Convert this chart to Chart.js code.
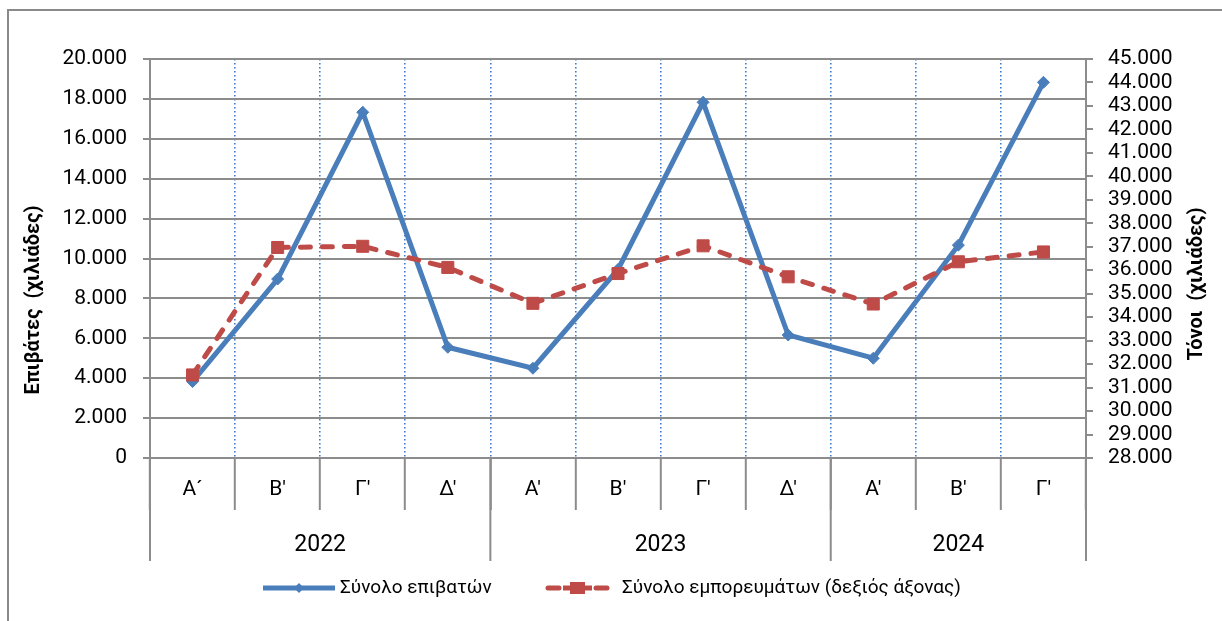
<!DOCTYPE html>
<html>
<head>
<meta charset="utf-8">
<script src="https://cdn.jsdelivr.net/npm/chart.js@4"></script>
<style>
  html, body { margin: 0; padding: 0; background: #fff; overflow: hidden; }
  .frame { position: absolute; left: 7px; top: 9px; width: 1400px; height: 800px; border: 2px solid #8a8a8a; box-sizing: border-box; }
  .wrap { position: absolute; left: 0; top: 0; width: 1222px; height: 621px; }
</style>
</head>
<body>
<div class="frame"></div>
<div class="wrap"><canvas id="chart"></canvas></div>
<script>
// quarters along the bottom, grouped by year
const quarters = ["Α´", "Β'", "Γ'", "Δ'", "Α'", "Β'", "Γ'", "Δ'", "Α'", "Β'", "Γ'"];
const years = ["2022", "2023", "2024"];
const yearSpans = [4, 4, 3];

// passengers (left axis) and goods in tonnes (right axis), thousands
const passengers = [3830, 8970, 17330, 5550, 4500, 9450, 17830, 6165, 5000, 10670, 18830];
const cargo = [31540, 36970, 37020, 36120, 34590, 35860, 37040, 35720, 34560, 36360, 36780];

const leftMin = 0, leftMax = 20000, leftStep = 2000;
const rightMin = 28000, rightMax = 45000, rightStep = 1000;

const seriesNames = ["Σύνολο επιβατών", "Σύνολο εμπορευμάτων (δεξιός άξονας)"];
const leftTitle = "Επιβάτες  (χιλιάδες)";
const rightTitle = "Τόνοι  (χιλιάδες)";

const BLUE = "#4A7EBB";
const RED = "#BE4B48";
const GRID = "#8c8c8c";
const FONT = "Roboto, 'Open Sans', sans-serif";

const fmt = v => String(v).replace(/\B(?=(\d{3})+(?!\d))/g, ".");

const extras = {
    id: "extras",
    afterDraw(chart) {
        const { ctx, chartArea, scales: { x } } = chart;
        const half = (x.getPixelForValue(1) - x.getPixelForValue(0)) / 2;
        const bottom = chartArea.bottom;
        ctx.save();
        ctx.strokeStyle = GRID;
        ctx.lineWidth = 2;
        ctx.fillStyle = "#000";
        ctx.font = "23px " + FONT;
        ctx.textAlign = "center";
        ctx.textBaseline = "middle";

        // year row under the quarters
        let start = 0;
        years.forEach((yr, i) => {
            const end = start + yearSpans[i];
            const x0 = x.getPixelForValue(start) - half;
            const x1 = x.getPixelForValue(end) - half;
            ctx.beginPath();
            ctx.moveTo(x0, bottom); ctx.lineTo(x0, bottom + 103);
            if (i === years.length - 1) { ctx.moveTo(x1, bottom); ctx.lineTo(x1, bottom + 103); }
            ctx.stroke();
            ctx.fillText(yr, (x0 + x1) / 2, bottom + 87);
            start = end;
        });

        // axis titles, both read bottom to top
        ctx.font = "bold 20px " + FONT;
        ctx.save();
        ctx.translate(34, 300);
        ctx.rotate(-Math.PI / 2);
        ctx.fillText(leftTitle, 0, 0);
        ctx.restore();
        ctx.save();
        ctx.translate(1197, 284);
        ctx.rotate(-Math.PI / 2);
        ctx.fillText(rightTitle, 0, 0);
        ctx.restore();

        // legend
        const ly = 588;
        ctx.lineWidth = 5;
        ctx.strokeStyle = BLUE;
        ctx.fillStyle = BLUE;
        ctx.beginPath(); ctx.moveTo(263, ly); ctx.lineTo(335, ly); ctx.stroke();
        ctx.beginPath();
        ctx.moveTo(299, ly - 5); ctx.lineTo(304, ly); ctx.lineTo(299, ly + 5); ctx.lineTo(294, ly);
        ctx.closePath(); ctx.fill();

        ctx.strokeStyle = RED;
        ctx.fillStyle = RED;
        ctx.lineCap = "round";
        ctx.beginPath();
        ctx.moveTo(548, ly); ctx.lineTo(559, ly);
        ctx.moveTo(596, ly); ctx.lineTo(607, ly);
        ctx.stroke();
        ctx.lineCap = "butt";
        ctx.beginPath(); ctx.moveTo(563, ly); ctx.lineTo(592, ly); ctx.stroke();
        ctx.fillRect(570, ly - 6, 15, 12);

        ctx.fillStyle = "#000";
        ctx.font = "19px " + FONT;
        ctx.textAlign = "left";
        ctx.fillText(seriesNames[0], 340, ly);
        ctx.fillText(seriesNames[1], 622, ly);
        ctx.restore();
    }
};

new Chart(document.getElementById("chart"), {
    type: "line",
    data: {
        labels: quarters,
        datasets: [{
            label: seriesNames[0],
            data: passengers,
            yAxisID: "y",
            borderColor: BLUE,
            backgroundColor: BLUE,
            borderWidth: 5,
            pointStyle: "rectRot",
            pointRadius: 6,
            pointBorderWidth: 1,
            tension: 0,
            order: 1
        }, {
            label: seriesNames[1],
            data: cargo,
            yAxisID: "y1",
            borderColor: RED,
            backgroundColor: RED,
            borderWidth: 5,
            borderDash: [10, 12],
            borderCapStyle: "round",
            pointStyle: "rect",
            pointRadius: 8.5,
            pointBorderWidth: 1,
            tension: 0,
            order: 0
        }]
    },
    options: {
        responsive: true,
        maintainAspectRatio: false,
        animation: false,
        layout: { padding: { top: 59, bottom: 0, left: 0, right: 0 } },
        plugins: {
            tooltip: { enabled: false },
            legend: { display: false }
        },
        scales: {
            x: {
                offset: true,
                afterFit: s => { s.height = 163; },
                grid: {
                    offset: true,
                    color: "#3f7cc8",
                    lineWidth: 1.6,
                    tickColor: GRID,
                    tickWidth: 2,
                    tickLength: 52
                },
                // in v4 border.dash is what dashes the grid lines
                border: { color: GRID, width: 2, dash: [1.5, 2.5] },
                ticks: { color: "#000", padding: -33, maxRotation: 0, font: { family: FONT, size: 21 } }
            },
            y: {
                position: "left",
                min: leftMin, max: leftMax,
                afterFit: s => { s.width = 150; },
                grid: { color: GRID, lineWidth: 2, tickLength: 7 },
                border: { color: GRID, width: 2 },
                ticks: { stepSize: leftStep, autoSkip: false, color: "#000", padding: 16, font: { family: FONT, size: 21 }, callback: fmt }
            },
            y1: {
                position: "right",
                min: rightMin, max: rightMax,
                afterFit: s => { s.width = 136; },
                grid: { drawOnChartArea: false, color: GRID, lineWidth: 2, tickLength: 7 },
                border: { color: GRID, width: 2 },
                ticks: { stepSize: rightStep, autoSkip: false, color: "#000", padding: 15, font: { family: FONT, size: 21 }, callback: fmt }
            }
        }
    },
    plugins: [extras]
});
</script>
</body>
</html>
